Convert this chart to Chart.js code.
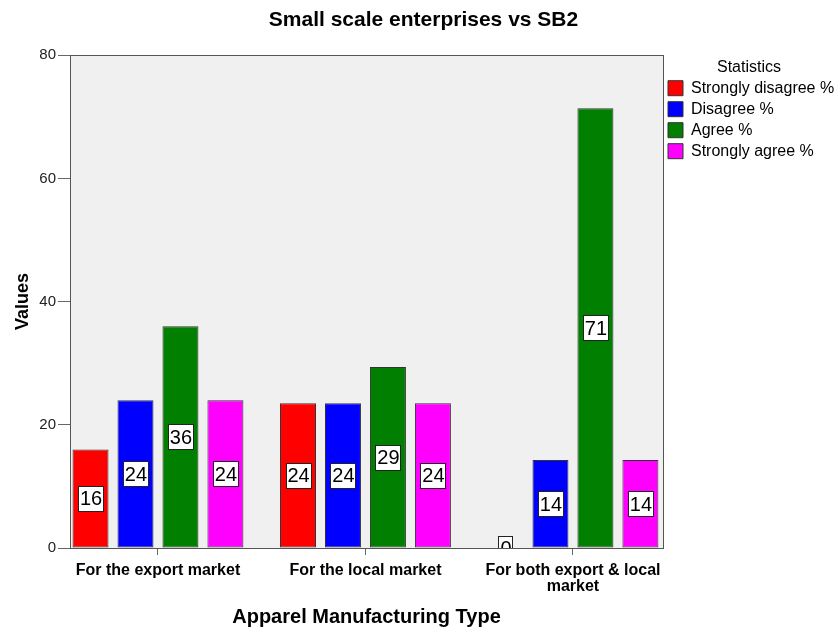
<!DOCTYPE html>
<html>
<head>
<meta charset="utf-8">
<script src="https://cdn.jsdelivr.net/npm/chart.js@4.4.0/dist/chart.umd.min.js"></script>
<style>
  html, body { margin: 0; padding: 0; background: #fff; }
  #wrap { width: 835px; height: 632px; }
</style>
</head>
<body>
<div id="wrap"><canvas id="chart"></canvas></div>
<script>
'use strict';

// categories and the four answer series (percent of enterprises)
const categories = ['For the export market', 'For the local market', ['For both export & local', 'market']];
const seriesNames = ['Strongly disagree %', 'Disagree %', 'Agree %', 'Strongly agree %'];
const stronglyDisagree = [16, 23.5, 0];
const disagree = [24, 23.5, 14.3];
const agree = [36, 29.4, 71.4];
const stronglyAgree = [24, 23.5, 14.3];
const seriesColors = ['#ff0000', '#0000ff', '#007f00', '#ff00ff'];
const yTicks = [0, 20, 40, 60, 80];

const seriesValues = [stronglyDisagree, disagree, agree, stronglyAgree];

const FONT = 'Liberation Sans, Arial, sans-serif';

// grey plot background and frame
const plotFrame = {
    id: 'plotFrame',
    beforeDatasetsDraw(chart) {
        const {ctx, chartArea: a} = chart;
        ctx.save();
        ctx.fillStyle = '#f0f0f0';
        ctx.fillRect(a.left, a.top, a.right - a.left, a.bottom - a.top);
        ctx.restore();
    },
    afterDatasetsDraw(chart) {
        const {ctx, chartArea: a} = chart;
        ctx.save();
        ctx.strokeStyle = '#555';
        ctx.lineWidth = 1;
        ctx.strokeRect(Math.round(a.left) + 0.5, Math.round(a.top) + 0.5,
            Math.round(a.right - a.left), Math.round(a.bottom - a.top));
        ctx.restore();
    }
};

// white value boxes in the middle of each bar
const valueBoxes = {
    id: 'valueBoxes',
    afterDatasetsDraw(chart) {
        const {ctx, chartArea: a} = chart;
        ctx.save();
        ctx.beginPath();
        ctx.rect(a.left, a.top, a.right - a.left, a.bottom - a.top);
        ctx.clip();
        ctx.font = '20px ' + FONT;
        ctx.textAlign = 'center';
        ctx.textBaseline = 'middle';
        chart.data.datasets.forEach((ds, i) => {
            const meta = chart.getDatasetMeta(i);
            meta.data.forEach((bar, j) => {
                const text = String(Math.round(ds.data[j].y));
                const cx = bar.x;
                const cy = (bar.y + bar.base) / 2;
                const w = Math.round(ctx.measureText(text).width + 3);
                const h = 25;
                const x0 = Math.round(cx - w / 2);
                const y0 = Math.round(cy - h / 2);
                ctx.fillStyle = '#fff';
                ctx.fillRect(x0, y0, w, h);
                ctx.strokeStyle = '#222';
                ctx.lineWidth = 1;
                ctx.strokeRect(x0 + 0.5, y0 + 0.5, w, h);
                ctx.fillStyle = '#000';
                ctx.fillText(text, cx + 0.5, cy + 1.5);
            });
        });
        ctx.restore();
    }
};

const datasets = seriesNames.map((name, i) => ({
    label: name,
    data: seriesValues[i].map((v, j) => ({x: j, y: v})),
    backgroundColor: seriesColors[i],
    borderColor: '#333',
    borderWidth: 1,
    borderSkipped: false,
    barPercentage: 0.8,
    categoryPercentage: 0.867
}));

new Chart(document.getElementById('chart'), {
    type: 'bar',
    data: {datasets: datasets},
    plugins: [plotFrame, valueBoxes],
    options: {
        responsive: true,
        maintainAspectRatio: false,
        animation: false,
        layout: {padding: {left: 12, right: 0, top: 0, bottom: 3}},
        scales: {
            x: {
                type: 'linear',
                min: -0.424,
                max: 2.434,
                offset: false,
                grid: {display: true, offset: false, drawOnChartArea: false, tickLength: 7, color: '#666'},
                border: {display: true, color: '#555'},
                ticks: {
                    stepSize: 1,
                    includeBounds: false,
                    autoSkip: false,
                    maxRotation: 0,
                    color: '#000',
                    padding: 8,
                    font: {family: FONT, size: 16, weight: 'bold', lineHeight: 1.0},
                    callback: v => Number.isInteger(v) ? categories[v] : ''
                },
                title: {
                    display: true,
                    text: 'Apparel Manufacturing Type',
                    color: '#000',
                    font: {family: FONT, size: 20, weight: 'bold'},
                    padding: {top: 2, bottom: 0}
                }
            },
            y: {
                min: 0,
                max: 80,
                afterBuildTicks: scale => {
                    scale.ticks = yTicks.map(v => ({value: v}));
                },
                afterFit: scale => {
                    scale.width = 58;
                },
                grid: {display: true, drawOnChartArea: false, tickLength: 12, color: '#666'},
                border: {display: true, color: '#555'},
                ticks: {
                    color: '#222',
                    padding: 2,
                    font: {family: FONT, size: 15}
                },
                title: {
                    display: true,
                    text: 'Values',
                    color: '#000',
                    font: {family: FONT, size: 18, weight: 'bold'},
                    padding: {top: 0, bottom: 6}
                }
            }
        },
        plugins: {
            title: {
                display: true,
                text: 'Small scale enterprises vs SB2',
                color: '#000',
                font: {family: FONT, size: 21, weight: 'bold'},
                padding: {top: 8, bottom: 22}
            },
            legend: {
                position: 'right',
                align: 'start',
                maxWidth: 172,
                title: {
                    display: true,
                    text: 'Statistics',
                    color: '#000',
                    font: {family: FONT, size: 16},
                    padding: {top: 60, bottom: -4}
                },
                labels: {
                    boxWidth: 15,
                    boxHeight: 15,
                    padding: 5,
                    color: '#000',
                    font: {family: FONT, size: 16}
                }
            },
            tooltip: {enabled: false}
        }
    }
});
</script>
</body>
</html>
